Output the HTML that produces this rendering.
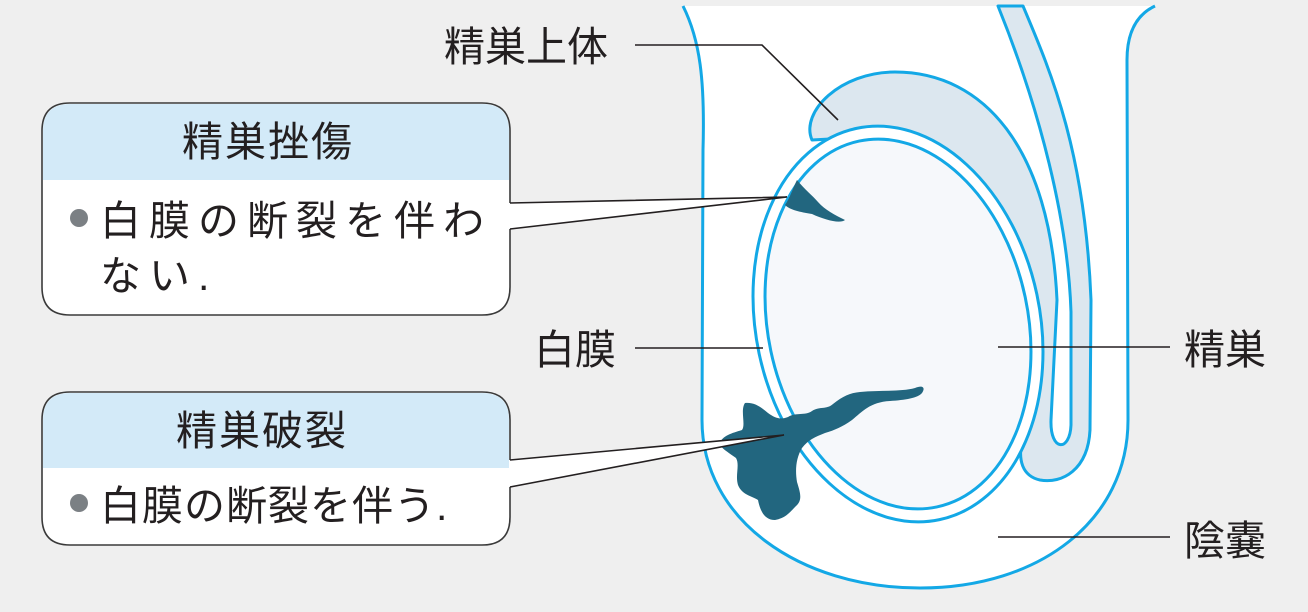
<!DOCTYPE html>
<html><head><meta charset="utf-8"><style>
html,body{margin:0;padding:0;background:#efefef}
svg{display:block}
text{font-family:"Liberation Sans","Noto Sans CJK JP",sans-serif;fill:#231f20}
</style></head><body>
<svg width="1308" height="612" viewBox="0 0 1308 612" xmlns="http://www.w3.org/2000/svg">
<rect width="1308" height="612" fill="#efefef"/>
<!-- scrotum -->
<path d="M683,6 L1155,6 C1138,14 1127,30 1127,60 L1128,420 C1128,520 1040,588 920,588 C800,588 702,520 702,420 L703,150 C705,80 700,40 683,6 Z" fill="#fff"/>
<path d="M683,6 C700,40 705,80 703,150 L702,420 C702,520 800,588 920,588 C1040,588 1128,520 1128,420 L1127,60 C1127,30 1138,14 1155,6" fill="none" stroke="#13a8e6" stroke-width="3"/>
<!-- epididymis + vas -->
<path d="M998,6 L1023,6 C1050,70 1085,150 1091,300 L1090,430 C1088,470 1062,484 1040,480 C1022,476 1018,460 1022,440 L980,300 L900,135 L812,140 C800,112 840,72 895,72 C985,72 1050,150 1057,300 L1051,420 C1050,452 1070,452 1071,425 L1071,312 C1068,220 1040,110 998,6 Z" fill="#dce7ef" stroke="#13a8e6" stroke-width="3" stroke-linejoin="round"/>
<!-- testis -->
<g transform="rotate(-12 898 324)">
<ellipse cx="898" cy="324" rx="142" ry="200" fill="#fff" stroke="#13a8e6" stroke-width="3"/>
<ellipse cx="898" cy="324" rx="130" ry="187" fill="#f6f8fb" stroke="#13a8e6" stroke-width="3"/>
</g>
<!-- blotches -->
<path d="M797,180 C805,190 812,195 818,202 C825,210 835,215 845,220 C840,224 825,220 812,214 C800,212 790,210 785,205 C790,198 792,190 797,180 Z" fill="#22667f"/>
<path d="M745,403 C755,402 762,408 768,413 C775,418 780,420 788,417 C796,412 805,416 812,411 C820,406 826,410 833,404 C843,396 850,393 860,392 C880,390 900,392 915,388 C922,385 926,387 922,393 C918,398 905,400 890,401 C870,402 862,412 852,420 C842,427 835,430 825,433 C815,437 808,440 802,448 C796,458 795,470 797,482 C800,492 803,500 796,506 C790,512 786,518 775,520 C764,520 760,510 758,500 C752,496 742,495 738,485 C735,475 740,465 736,458 C728,452 720,448 720,443 C722,436 732,433 742,430 C746,425 740,410 745,403 Z" fill="#22667f"/>
<!-- leader lines -->
<g stroke="#231f20" stroke-width="1.6" fill="none">
<path d="M635,45 L762,45 L838,120"/>
<path d="M635,348 L763,348"/>
<path d="M998,347 L1170,347"/>
<path d="M998,537 L1170,537"/>
</g>
<!-- box 1 -->
<path d="M70,103 L482,103 Q510,103 510,131 L510,203 L787,197 L510,229 L510,287 Q510,315 482,315 L70,315 Q42,315 42,287 L42,131 Q42,103 70,103 Z" fill="#fff"/>
<path d="M70,104 L482,104 Q509,104 509,131 L509,180 L43,180 L43,131 Q43,104 70,104 Z" fill="#d3eaf8"/>
<path d="M510,203 L510,131 Q510,103 482,103 L70,103 Q42,103 42,131 L42,287 Q42,315 70,315 L482,315 Q510,315 510,287 L510,229" fill="none" stroke="#3a3a3a" stroke-width="1.6"/>
<path d="M510,203 L787,197 L510,229" fill="#fff" stroke="#231f20" stroke-width="1.6" stroke-linejoin="miter"/>
<text x="268" y="156" font-size="41" text-anchor="middle" letter-spacing="2">精巣挫傷</text>
<circle cx="79" cy="218" r="9" fill="#7b8084"/>
<text x="100" y="235" font-size="41" letter-spacing="8">白膜の断裂を伴わ</text>
<text x="100" y="290" font-size="41" letter-spacing="8">ない.</text>
<!-- box 2 -->
<path d="M70,392 L482,392 Q510,392 510,420 L510,460 L784,435 L510,487 L510,517 Q510,545 482,545 L70,545 Q42,545 42,517 L42,420 Q42,392 70,392 Z" fill="#fff"/>
<path d="M70,393 L482,393 Q509,393 509,420 L509,468 L43,468 L43,420 Q43,393 70,393 Z" fill="#d3eaf8"/>
<path d="M510,460 L510,420 Q510,392 482,392 L70,392 Q42,392 42,420 L42,517 Q42,545 70,545 L482,545 Q510,545 510,517 L510,487" fill="none" stroke="#3a3a3a" stroke-width="1.6"/>
<path d="M510,460 L784,435 L510,487" fill="#fff" stroke="#231f20" stroke-width="1.6"/>
<text x="262" y="445" font-size="41" text-anchor="middle" letter-spacing="2">精巣破裂</text>
<circle cx="79" cy="503" r="9" fill="#7b8084"/>
<text x="100" y="520" font-size="41" letter-spacing="1">白膜の断裂を伴う.</text>
<!-- labels -->
<text x="444" y="61" font-size="41">精巣上体</text>
<text x="534" y="364" font-size="41">白膜</text>
<text x="1184" y="364" font-size="41">精巣</text>
<text x="1184" y="555" font-size="41">陰嚢</text>
</svg>
</body></html>
